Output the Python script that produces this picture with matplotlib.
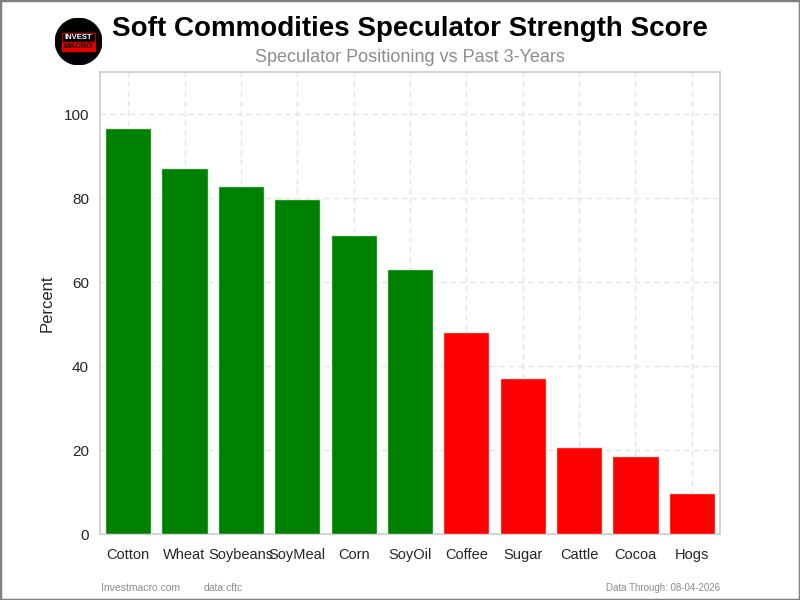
import matplotlib
matplotlib.use("Agg")
import matplotlib.pyplot as plt
from matplotlib.patches import Circle, Rectangle

plt.rcParams['font.family'] = ['Liberation Sans', 'DejaVu Sans']

categories = ["Cotton", "Wheat", "Soybeans", "SoyMeal", "Corn", "SoyOil",
              "Coffee", "Sugar", "Cattle", "Cocoa", "Hogs"]
values = [96.7, 87.1, 82.8, 79.7, 71.1, 63.2, 48.2, 37.2, 20.8, 18.6, 9.8]
threshold = 50
yticks = [0, 20, 40, 60, 80, 100]

colors = ["green" if v >= threshold else "red" for v in values]

fig = plt.figure(figsize=(8, 6), dpi=100)
ax = fig.add_axes([0.125, 0.11, 0.775, 0.77])
x = list(range(len(categories)))
ax.bar(x, values, width=0.82, color=colors, edgecolor="#e8f0e8", linewidth=1, zorder=3)
ax.set_xlim(-0.5, len(categories) - 0.5)
ax.set_ylim(0, 110)
ax.set_yticks(yticks)
ax.set_xticks(x)
ax.set_xticklabels(categories, fontsize=10.5, color="#262626")
ax.tick_params(axis='y', labelsize=11, labelcolor="#262626", length=0, pad=8)
ax.tick_params(axis='x', length=0, pad=10)
ax.set_ylabel("Percent", fontsize=12, color="#262626", labelpad=6)
ax.grid(True, linestyle=(0, (4, 3)), color="#e3e3e3", linewidth=1, zorder=0)
ax.set_axisbelow(True)
for s in ax.spines.values():
    s.set_color("#cccccc")
    s.set_linewidth(1.2)

fig.text(0.512, 0.952, "Soft Commodities Speculator Strength Score", ha="center", va="center",
         fontsize=20, fontweight="bold", color="black")
fig.text(0.512, 0.905, "Speculator Positioning vs Past 3-Years", ha="center", va="center",
         fontsize=13, color="#8c8c8c")

# logo
lax = fig.add_axes([0.0688, 0.8917, 0.0588, 0.0783])
lax.set_xlim(-1, 1)
lax.set_ylim(-1, 1)
lax.set_aspect("equal")
lax.axis("off")
lax.add_patch(Circle((0, 0), 0.99, color="black"))
lax.add_patch(Rectangle((-0.7, -0.42), 1.4, 0.4, color="#e00000"))
lax.add_patch(Rectangle((-0.7, -0.02), 1.4, 0.4, fill=False, edgecolor="#c00000", linewidth=0.8))
lax.text(0, 0.18, "INVEST", ha="center", va="center", color="white", fontsize=5.6, fontweight="bold")
lax.text(0, -0.22, "MACRO", ha="center", va="center", color="black", fontsize=5.6, fontweight="bold")

fig.text(0.126, 0.02, "Investmacro.com", fontsize=7.5, color="#8c8c8c", ha="left", va="center")
fig.text(0.254, 0.02, "data:cftc", fontsize=7.5, color="#8c8c8c", ha="left", va="center")
fig.text(0.9, 0.02, "Data Through: 08-04-2026", fontsize=7, color="#8c8c8c", ha="right", va="center")

fig.patches.append(Rectangle((0, 0), 1, 1, transform=fig.transFigure, fill=False,
                             edgecolor="#808080", linewidth=2.5))

fig.savefig("out.png", dpi=100)
